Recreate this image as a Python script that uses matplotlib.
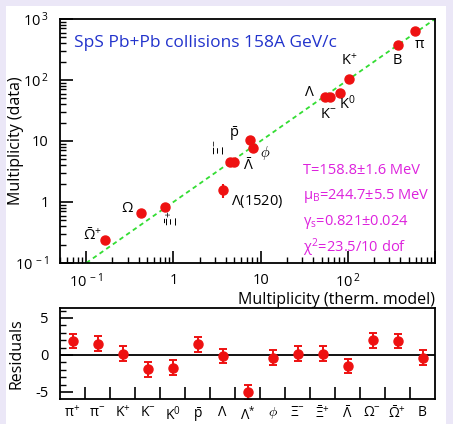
import matplotlib
matplotlib.use("Agg")
import matplotlib.pyplot as plt
import numpy as np
from matplotlib.patches import Rectangle
from matplotlib.ticker import LogLocator, FixedLocator, NullFormatter, MultipleLocator

plt.rcParams.update({
    'font.family': ['Open Sans', 'DejaVu Sans'],
    'mathtext.fontset': 'custom',
    'mathtext.rm': 'Open Sans',
    'mathtext.it': 'Open Sans',
    'mathtext.bf': 'Open Sans:bold',
    'axes.linewidth': 1.3,
    'xtick.direction': 'in', 'ytick.direction': 'in',
    'xtick.top': False, 'ytick.right': False,
    'xtick.major.size': 9, 'ytick.major.size': 9,
    'xtick.minor.size': 4.5, 'ytick.minor.size': 4.5,
    'xtick.major.width': 1.2, 'ytick.major.width': 1.2,
    'xtick.minor.width': 1.0, 'ytick.minor.width': 1.0,
    'xtick.major.pad': 7, 'ytick.major.pad': 8,
    'xtick.labelsize': 10.5, 'ytick.labelsize': 10.5,
    'xtick.color': 'black', 'ytick.color': 'black',
})

# ---- top panel data: model (x) vs data (y) ----
particles_top = ["pi", "B", "K+", "K0", "Lambda", "K-", "pbar", "phi", "Xi-", "Lbar",
                 "L1520", "Xibar+", "Omega", "Omegabar+"]
model_mult = [590, 376, 102, 81, 55, 62, 7.5, 8.1, 4.4, 5.0, 3.66, 0.81, 0.43, 0.165]
data_mult = [635, 375, 104, 61, 52, 52, 10.4, 7.7, 4.5, 4.6, 1.57, 0.83, 0.66, 0.24]
data_err = [15, 10, 5, 4, 3, 3, 0.6, 0.5, 0.3, 0.3, 0.4, 0.05, 0.05, 0.03]

# ---- residuals ----
res_labels = [r"$\pi^{+}$", r"$\pi^{-}$", r"K$^{+}$", r"K$^{-}$", r"K$^{0}$", r"$\bar{\rm p}$",
              r"$\Lambda$", r"$\Lambda^{*}$", r"$\phi$", r"$\Xi^{-}$", r"$\bar{\Xi}^{+}$",
              r"$\bar{\Lambda}$", r"$\Omega^{-}$", r"$\bar{\Omega}^{+}$", "B"]
residuals = [1.9, 1.55, 0.18, -1.95, -1.73, 1.45, -0.14, -5.05, -0.36, 0.18, 0.18,
             -1.5, 2.0, 1.9, -0.36]
res_err = [1.0] * 15

W, H = 453, 424
fig = plt.figure(figsize=(W / 100, H / 100), dpi=100)
fig.patch.set_facecolor('#ebe7f7')

def fx(px):
    return px / W

def fy(py):
    return 1 - py / H

# background frame: lavender border with white inner area
bg = fig.add_axes([fx(6), 0, fx(446) - fx(6), fy(6)], zorder=-5)
bg.set_axis_off()
bg.add_artist(Rectangle((0, 0), 1, 1, transform=bg.transAxes, facecolor='white',
                        edgecolor='none'))

# ---- top panel ----
ax = fig.add_axes([fx(60), fy(263), fx(435) - fx(60), fy(19) - fy(263)])
ax.set_xscale('log')
ax.set_yscale('log')
ax.set_xlim(0.05, 1000)
ax.set_ylim(0.1, 1000)
ax.xaxis.set_major_locator(FixedLocator([0.1, 1, 10, 100, 1000]))
ax.yaxis.set_major_locator(FixedLocator([0.1, 1, 10, 100, 1000]))
ax.xaxis.set_minor_locator(LogLocator(base=10, subs=np.arange(2, 10), numticks=20))
ax.yaxis.set_minor_locator(LogLocator(base=10, subs=np.arange(2, 10), numticks=20))
ax.xaxis.set_minor_formatter(NullFormatter())
ax.yaxis.set_minor_formatter(NullFormatter())
ax.set_xticklabels([r"$10^{\,-1}$", "1", "10", r"$10^{\,2}$", ""])
ax.set_yticklabels([r"$10^{\,-1}$", "1", "10", r"$10^{\,2}$", r"$10^{\,3}$"])

ax.plot([0.1, 1000], [0.1, 1000], color='#33dd33', ls=(0, (2.5, 2)), lw=1.3)
ax.errorbar(model_mult, data_mult, yerr=data_err, fmt='o', color='#ee1111', ms=6.5,
            elinewidth=1.5, capsize=0)

ax.set_ylabel("Multiplicity (data)", fontsize=11.5)
ax.yaxis.set_label_coords(-0.095, 0.5)
fig.text(fx(435), fy(300), "Multiplicity (therm. model)", fontsize=11.5, ha='right', va='center')

ax.text(0.037, 0.90, "SpS Pb+Pb collisions 158A GeV/c", transform=ax.transAxes,
        color='#2233cc', fontsize=12.5, va='center', ha='left')

def tlab(px, py, s, **kw):
    fig.text(fx(px), fy(py), s, fontsize=10.5, ha='center', va='center', **kw)

tlab(420, 44, r"$\pi$")
tlab(397, 60, "B")
tlab(349, 61, r"K$^{+}$")
tlab(309, 92, r"$\Lambda$")
tlab(347, 104, r"K$^{0}$")
tlab(328, 115, r"K$^{-}$")
tlab(234, 134, r"$\bar{\rm p}$")
tlab(265, 153, r"$\phi$")
tlab(221, 147, r"$\Xi^{-}$", rotation=90)
tlab(248, 166, r"$\bar{\Lambda}$")
fig.text(fx(231), fy(202), r"$\Lambda$(1520)", fontsize=10.5, ha='left', va='center')
tlab(127, 208, r"$\Omega$")
tlab(174, 218, r"$\bar{\Xi}^{+}$", rotation=90)
tlab(92, 236, r"$\bar{\Omega}^{+}$")

mag = '#dd22dd'
for py, s in [(170, "T=158.8\u00b11.6 MeV"),
              (196, r"$\mu_{\rm B}$=244.7$\pm$5.5 MeV"),
              (222, r"$\gamma_{\rm s}$=0.821$\pm$0.024"),
              (248, r"$\chi^{2}$=23.5/10 dof")]:
    fig.text(fx(303), fy(py), s, color=mag, fontsize=10.5, ha='left', va='center')

# ---- residual panel ----
ax2 = fig.add_axes([fx(60), fy(399), fx(435) - fx(60), fy(308) - fy(399)])
xs = np.arange(len(residuals)) + 0.5
ax2.set_xlim(0, len(residuals))
ax2.set_ylim(-5.95, 6.35)
ax2.xaxis.set_major_locator(FixedLocator(np.arange(1, len(residuals))))
ax2.xaxis.set_major_formatter(NullFormatter())
ax2.yaxis.set_major_locator(FixedLocator([-5, 0, 5]))
ax2.yaxis.set_minor_locator(MultipleLocator(1))
ax2.set_yticklabels(["-5", "0", "5"])
ax2.axhline(0, color='black', lw=1.3)
ax2.errorbar(xs, residuals, yerr=res_err, fmt='o', color='#ee1111', ms=6.5,
             elinewidth=1.4, capsize=3, capthick=1.4)
for x, lab in zip(xs, res_labels):
    ax2.text(x, -0.07, lab, transform=ax2.get_xaxis_transform(), ha='center', va='top',
             fontsize=10)
ax2.set_ylabel("Residuals", fontsize=11.5)
ax2.yaxis.set_label_coords(-0.095, 0.5)

fig.savefig("out.png", dpi=100, facecolor=fig.get_facecolor())
